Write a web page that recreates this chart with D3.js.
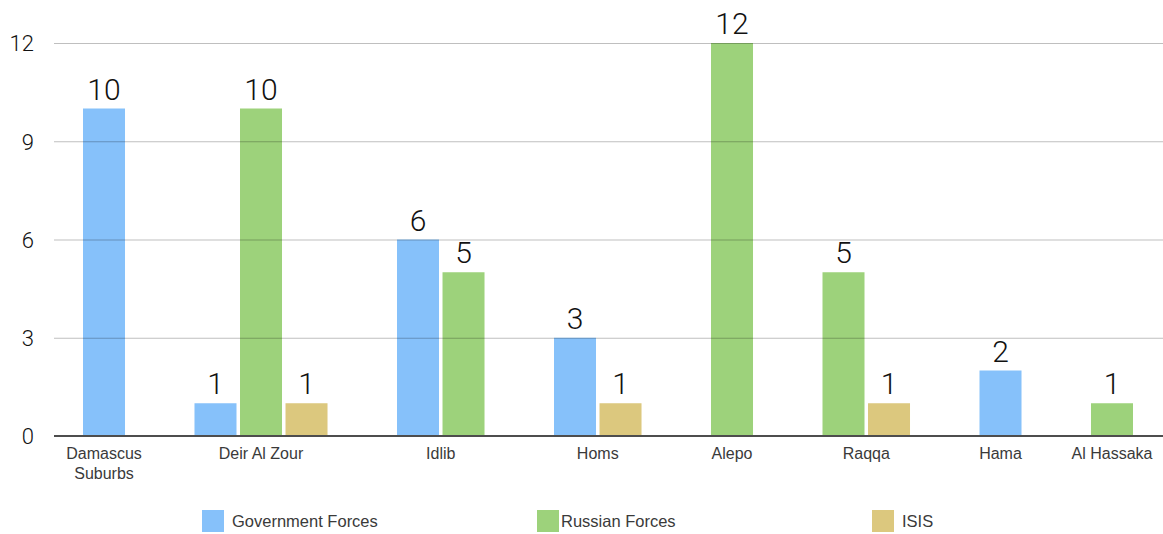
<!DOCTYPE html>
<html>
<head>
<meta charset="utf-8">
<script src="https://cdn.jsdelivr.net/npm/d3@7"></script>
<style>
  html, body { margin: 0; padding: 0; background: #fff; }
  svg { display: block; }
</style>
</head>
<body>
<svg id="chart" width="1163" height="534"></svg>
<script>
// ---- data ----
const categories = ["Damascus Suburbs", "Deir Al Zour", "Idlib", "Homs", "Alepo", "Raqqa", "Hama", "Al Hassaka"];
const seriesNames = ["Government Forces", "Russian Forces", "ISIS"];
const governmentForces = [10, 1, 6, 3, 0, 0, 2, 0];
const russianForces    = [0, 10, 5, 0, 12, 5, 0, 1];
const isis             = [0, 1, 0, 1, 0, 1, 0, 0];
const yTicks = [0, 3, 6, 9, 12];

// ---- styles ----
const colors = ["#86c1fa", "#9dd27b", "#dcc87e"];
const seriesValues = [governmentForces, russianForces, isis];

const W = 1163, H = 534;
const plotLeft = 54, plotRight = 1163, plotTop = 43, plotBottom = 436;
const barsLeft = 83, barsRight = 1133;
const barRatio = 42 / 45.5;       // bar width relative to bar pitch
const groupExtra = 1.45;          // extra spacing between groups, in pitches

const svg = d3.select("#chart");

const y = d3.scaleLinear().domain([0, 12]).range([plotBottom, plotTop]);

// sequential layout of non-zero bars
const bars = [];
const groups = [];
let u = 0;
categories.forEach((cat, i) => {
  if (i > 0) u += groupExtra;
  const start = u;
  seriesValues.forEach((vals, s) => {
    if (vals[i] > 0) {
      bars.push({ cat: i, s, v: vals[i], u });
      u += 1;
    }
  });
  groups.push({ name: cat, uStart: start, uEnd: u - 1 + barRatio });
});
const lastEnd = groups[groups.length - 1].uEnd;
const x = d3.scaleLinear().domain([0, lastEnd]).range([barsLeft, barsRight]);
const bw = x(barRatio) - x(0);

// bars
svg.append("g").selectAll("rect").data(bars).join("rect")
  .attr("x", d => x(d.u))
  .attr("y", d => y(d.v))
  .attr("width", bw)
  .attr("height", d => y(0) - y(d.v))
  .attr("fill", d => colors[d.s]);

// gridlines (drawn over bars)
const yAxis = d3.axisLeft(y).tickValues(yTicks).tickSize(-(plotRight - plotLeft)).tickFormat(d3.format("d")).tickPadding(20);
const gy = svg.append("g").attr("transform", `translate(${plotLeft},0)`).call(yAxis);
gy.select(".domain").remove();
gy.selectAll(".tick line")
  .attr("stroke", "rgba(0,0,0,0.25)")
  .attr("stroke-width", 1)
  .filter(d => d === 0).remove();
gy.selectAll(".tick text")
  .attr("font-family", "Roboto, 'Liberation Sans', sans-serif")
  .attr("font-weight", 300)
  .attr("font-size", 22)
  .attr("fill", "#111")
  .attr("dy", "0.36em");

// baseline
svg.append("line")
  .attr("x1", plotLeft).attr("x2", plotRight)
  .attr("y1", y(0)).attr("y2", y(0))
  .attr("stroke", "#4d4d4d").attr("stroke-width", 2);

// value labels
svg.append("g").selectAll("text").data(bars).join("text")
  .attr("x", d => x(d.u) + bw / 2)
  .attr("y", d => y(d.v) - 9)
  .attr("text-anchor", "middle")
  .attr("font-family", "Roboto, 'Liberation Sans', sans-serif")
  .attr("font-weight", 300)
  .attr("font-size", 30)
  .attr("fill", "#111")
  .text(d => d.v);

// category labels (wrap long names)
const catG = svg.append("g").selectAll("text").data(groups).join("text")
  .attr("x", d => (x(d.uStart) + x(d.uEnd)) / 2)
  .attr("y", 459)
  .attr("text-anchor", "middle")
  .attr("font-family", "'Liberation Sans', Arial, sans-serif")
  .attr("font-size", 16)
  .attr("fill", "#3a3a3a");
catG.each(function(d) {
  const t = d3.select(this);
  const words = d.name.split(" ");
  const lines = d.name.length > 13 ? [words.slice(0, Math.ceil(words.length / 2)).join(" "), words.slice(Math.ceil(words.length / 2)).join(" ")] : [d.name];
  lines.forEach((ln, k) => {
    t.append("tspan").attr("x", t.attr("x")).attr("dy", k === 0 ? 0 : 20).text(ln);
  });
});

// legend
const legendX0 = 202, legendStep = 335, legendY = 510;
const lg = svg.append("g").selectAll("g").data(seriesNames).join("g")
  .attr("transform", (d, i) => `translate(${legendX0 + i * legendStep},${legendY})`);
lg.append("rect").attr("width", 22).attr("height", 22).attr("fill", (d, i) => colors[i]);
lg.append("text")
  .attr("x", (d, i) => i === 1 ? 24 : 30)
  .attr("y", 17)
  .attr("font-family", "'Liberation Sans', Arial, sans-serif")
  .attr("font-size", 16.5)
  .attr("fill", "#3a3a3a")
  .text(d => d);
</script>
</body>
</html>
